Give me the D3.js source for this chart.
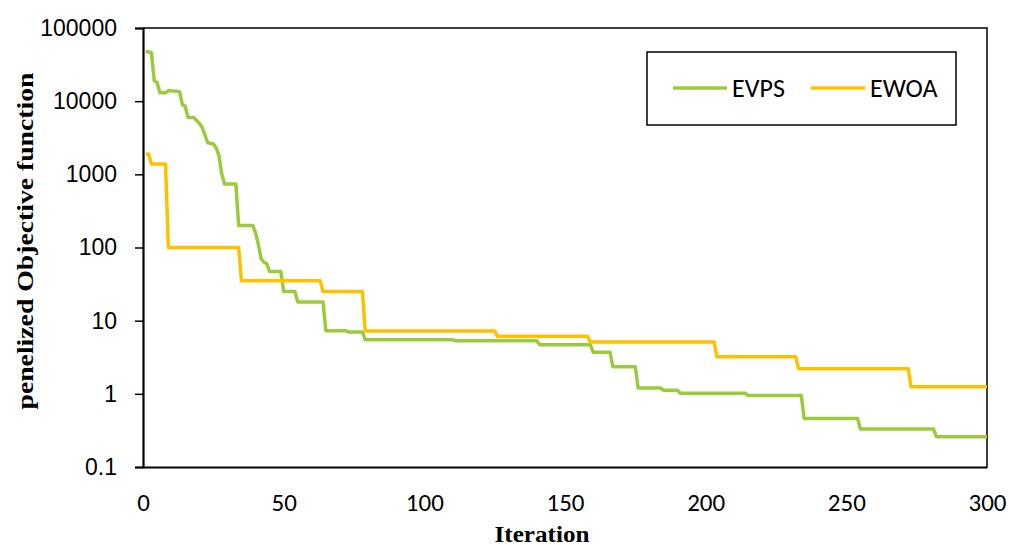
<!DOCTYPE html>
<html>
<head>
<meta charset="utf-8">
<script src="https://cdn.jsdelivr.net/npm/d3@7"></script>
<style>
  body { margin: 0; background: #fff; }
  svg { display: block; }
</style>
</head>
<body>
<svg id="chart" width="1009" height="545"></svg>
<script>
// iteration / value pairs
var evpsIter = [1, 3, 4, 5, 6, 8, 9, 13, 14, 15, 16, 18, 20, 21, 23, 25, 26, 27, 28, 29, 33, 34, 39, 40, 41, 42, 43, 44, 45, 49, 50, 54, 55, 64, 65, 72, 73, 78, 79, 110, 111, 140, 141, 159, 160, 166, 167, 175, 176, 184, 185, 190, 191, 214, 215, 234, 235, 254, 255, 281, 282, 300];
var evpsVal = [48000, 46000, 19000, 18000, 13000, 13000, 14000, 13500, 9000, 8500, 6000, 6000, 5000, 4400, 2700, 2600, 2300, 1800, 1000, 740, 740, 200, 200, 160, 110, 70, 63, 60, 47, 47, 25, 25, 18, 18, 7.3, 7.3, 7.0, 7.0, 5.5, 5.5, 5.3, 5.3, 4.7, 4.7, 3.7, 3.7, 2.35, 2.35, 1.2, 1.2, 1.12, 1.12, 1.02, 1.02, 0.95, 0.95, 0.46, 0.46, 0.33, 0.33, 0.26, 0.26];

var ewoaIter = [1, 2, 3, 8, 9, 34, 35, 63, 64, 78, 79, 125, 126, 158, 159, 203, 204, 232, 233, 272, 273, 300];
var ewoaVal = [1900, 1900, 1380, 1380, 100, 100, 35, 35, 25, 25, 7.2, 7.2, 6.1, 6.1, 5.1, 5.1, 3.2, 3.2, 2.2, 2.2, 1.25, 1.25];

var seriesNames = ["EVPS", "EWOA"];
var seriesColors = ["#9BCB3C", "#FFC000"];
var xTicks = [0, 50, 100, 150, 200, 250, 300];
var yTicks = [0.1, 1, 10, 100, 1000, 10000, 100000];

var margin = { top: 28, right: 22, bottom: 78, left: 143 };
var width = 1009 - margin.left - margin.right;
var height = 545 - margin.top - margin.bottom;

var svg = d3.select("#chart")
  .append("g")
  .attr("transform", "translate(" + margin.left + "," + margin.top + ")");

var x = d3.scaleLinear().domain([0, 300]).range([0, width]);
var y = d3.scaleLog().domain([0.1, 100000]).range([height, 0]);

// frame on top and right
svg.append("path")
  .attr("d", "M0,0H" + width + "V" + height)
  .attr("fill", "none")
  .attr("stroke", "#000")
  .attr("stroke-width", 1.5);

// y axis
var yAxis = svg.append("g")
  .call(d3.axisLeft(y).tickValues(yTicks).tickFormat(d => d < 1 ? "0.1" : d3.format("d")(d)).tickSize(8).tickPadding(18));
yAxis.select(".domain").attr("stroke-width", 2.2);
yAxis.selectAll(".tick line").attr("stroke-width", 1.5);
yAxis.selectAll("text")
  .attr("font-family", "Liberation Sans, Arial, sans-serif")
  .attr("font-size", 23)
  .attr("fill", "#000");

// x axis, no tick marks
var xAxis = svg.append("g")
  .attr("transform", "translate(0," + height + ")")
  .call(d3.axisBottom(x).tickValues(xTicks).tickSize(0).tickPadding(26));
xAxis.select(".domain").attr("stroke-width", 2.2);
xAxis.selectAll("text")
  .attr("font-family", "Carlito, Calibri, Lato, sans-serif")
  .attr("font-size", 25)
  .attr("fill", "#000");

var line = d3.line()
  .x(d => x(d[0]))
  .y(d => y(d[1]));

var series = [
  d3.zip(evpsIter, evpsVal),
  d3.zip(ewoaIter, ewoaVal)
];

// orange drawn last, on top
[0, 1].forEach(function (i) {
  svg.append("path")
    .datum(series[i])
    .attr("fill", "none")
    .attr("stroke", seriesColors[i])
    .attr("stroke-width", 3.5)
    .attr("stroke-linejoin", "round")
    .attr("d", line);
});

// axis titles (stretched a bit, like the original image)
svg.append("text")
  .attr("x", 542 - margin.left)
  .attr("y", 542 - margin.top)
  .attr("text-anchor", "middle")
  .attr("font-family", "Liberation Serif, Times New Roman, serif")
  .attr("font-weight", "bold")
  .attr("font-size", 23)
  .attr("textLength", 95)
  .attr("lengthAdjust", "spacingAndGlyphs")
  .text("Iteration");

svg.append("text")
  .attr("transform", "translate(" + (33 - margin.left) + "," + (241 - margin.top) + ") rotate(-90)")
  .attr("text-anchor", "middle")
  .attr("font-family", "Liberation Serif, Times New Roman, serif")
  .attr("font-weight", "bold")
  .attr("font-size", 23)
  .attr("textLength", 337)
  .attr("lengthAdjust", "spacingAndGlyphs")
  .text("penelized Objective function");

// legend
var legend = svg.append("g").attr("transform", "translate(" + (647 - margin.left) + "," + (52 - margin.top) + ")");
legend.append("rect")
  .attr("width", 309)
  .attr("height", 73)
  .attr("fill", "#fff")
  .attr("stroke", "#000")
  .attr("stroke-width", 1.5);

var legendX = [26, 164];
seriesNames.forEach(function (name, i) {
  legend.append("line")
    .attr("x1", legendX[i]).attr("x2", legendX[i] + 54)
    .attr("y1", 36).attr("y2", 36)
    .attr("stroke", seriesColors[i])
    .attr("stroke-width", 3.5);
  legend.append("text")
    .attr("x", legendX[i] + 59)
    .attr("y", 45)
    .attr("font-family", "Carlito, Calibri, Lato, sans-serif")
    .attr("font-size", 26)
    .text(name);
});
</script>
</body>
</html>
